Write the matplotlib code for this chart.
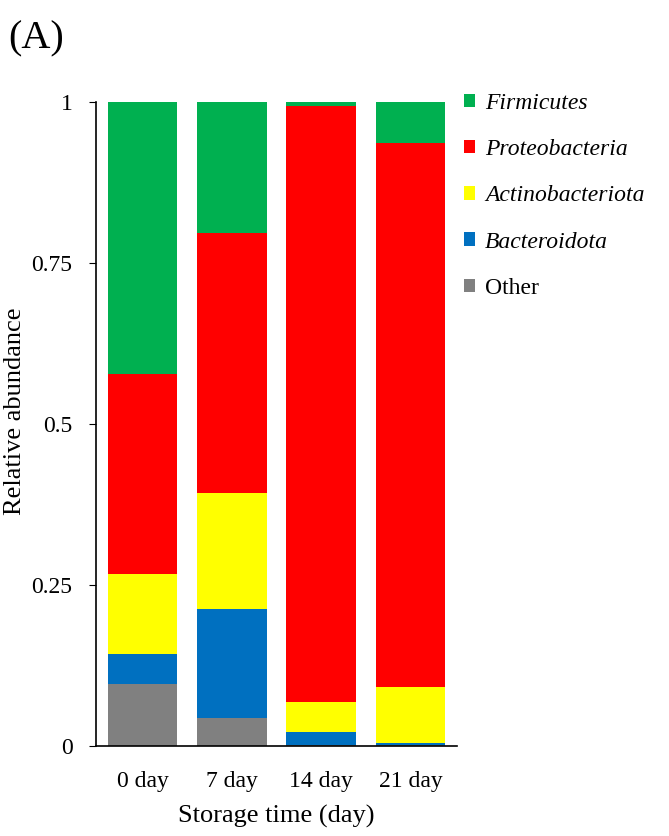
import matplotlib.pyplot as plt
from matplotlib.patches import Patch

plt.rcParams['font.family'] = ['Liberation Serif', 'DejaVu Serif']

days = ['0 day', '7 day', '14 day', '21 day']
other = [0.096, 0.043, 0.001, 0.001]
bacteroidota = [0.047, 0.170, 0.021, 0.004]
actinobacteriota = [0.124, 0.180, 0.047, 0.087]
proteobacteria = [0.311, 0.404, 0.924, 0.844]
firmicutes = [0.422, 0.203, 0.007, 0.064]

series = [
    ('Other', other, '#808080', False),
    ('Bacteroidota', bacteroidota, '#0070C0', True),
    ('Actinobacteriota', actinobacteriota, '#FFFF00', True),
    ('Proteobacteria', proteobacteria, '#FF0000', True),
    ('Firmicutes', firmicutes, '#00B050', True),
]

fig = plt.figure(figsize=(6.69, 8.36), dpi=100)
ax = fig.add_axes([0.1435, 0.1077, 0.5395, 0.7703])

x = list(range(len(days)))
bottom = [0.0] * len(days)
for name, vals, col, it in series:
    ax.bar(x, vals, width=0.78, bottom=bottom, color=col, edgecolor='none')
    bottom = [b + v for b, v in zip(bottom, vals)]

ax.set_xlim(-0.52, 3.52)
ax.set_ylim(0, 1)
ax.set_yticks([0, 0.25, 0.5, 0.75, 1])
ax.set_yticklabels(['0', '0.25', '0.5', '0.75', '1'])
ax.set_xticks(x)
ax.set_xticklabels(days)
ax.tick_params(axis='x', length=0, labelsize=17, pad=18)
ax.tick_params(axis='y', direction='out', length=5, labelsize=17, pad=12)
for s in ['top', 'right']:
    ax.spines[s].set_visible(False)
ax.spines['left'].set_linewidth(1.2)
ax.spines['bottom'].set_linewidth(1.2)
ax.set_xlabel('Storage time (day)', fontsize=19, labelpad=9)
ax.set_ylabel('Relative abundance', fontsize=19)
ax.yaxis.set_label_coords(-0.195, 0.52)

handles = [Patch(facecolor=col, edgecolor='none') for _, _, col, _ in series[::-1]]
labels = [name for name, _, _, _ in series[::-1]]
leg = fig.legend(handles, labels, loc='upper left', bbox_to_anchor=(0.693, 0.889),
                 frameon=False, fontsize=17, handlelength=0.5, handleheight=0.5,
                 handletextpad=0.4, labelspacing=1.07, borderpad=0, borderaxespad=0)
for t, (_, _, _, it) in zip(leg.get_texts(), series[::-1]):
    if it:
        t.set_style('italic')

fig.text(0.012, 0.975, '(A)', fontsize=29, va='top', ha='left')

fig.savefig('out.png', dpi=100)
